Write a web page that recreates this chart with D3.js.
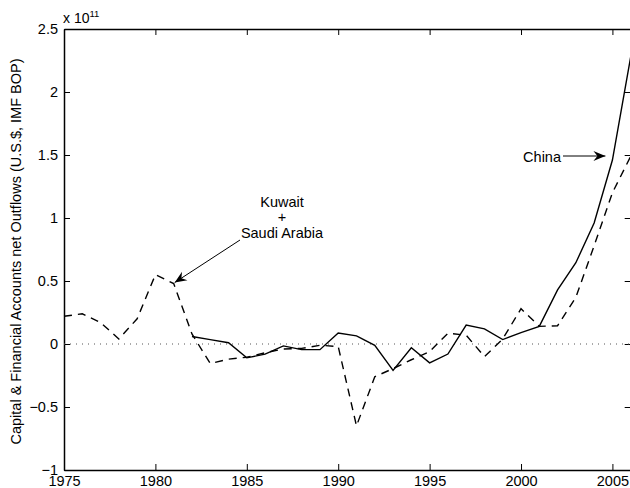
<!DOCTYPE html>
<html lang="en">
<head>
    <meta charset="UTF-8">
    <title>Capital outflows</title>
    <style>
        body { margin: 0; background: #fff; }
        text { font-family: "Liberation Sans", Arial, Helvetica, sans-serif; fill: #000; }
    </style>
</head>
<body>

<div id="content"></div>

<script src="https://d3js.org/d3.v7.min.js"></script>
<script>

    // data (units of 1e11 U.S.$)
    var years = d3.range(1975, 2007);

    var chinaValues = [null, null, null, null, null, null, null,
        0.06, 0.035, 0.01, -0.11, -0.08, -0.015, -0.045, -0.045, 0.087,
        0.065, -0.01, -0.21, -0.03, -0.15, -0.08, 0.15, 0.12, 0.035,
        0.09, 0.14, 0.43, 0.645, 0.96, 1.46, 2.28];

    var gulfValues = [0.22, 0.24, 0.17, 0.04, 0.2, 0.55, 0.48,
        0.08, -0.155, -0.12, -0.105, -0.07, -0.04, -0.035, -0.01, -0.02,
        -0.65, -0.26, -0.195, -0.125, -0.06, 0.085, 0.07, -0.1, 0.04,
        0.28, 0.14, 0.145, 0.37, 0.78, 1.2, 1.49];

    var xTicks = [1975, 1980, 1985, 1990, 1995, 2000, 2005];
    var yTicks = [-1, -0.5, 0, 0.5, 1, 1.5, 2, 2.5];

    var width = 630, height = 488;
    // plot box (note: "top" is reserved on window, so use plotX/plotY names)
    var plotLeft = 64, plotRight = 630.7, plotTop = 29, plotBottom = 470;

    var svg = d3.select("#content")
        .append("svg")
        .attr("width", width)
        .attr("height", height);

    var xScale = d3.scaleLinear().domain([1975, 2006]).range([plotLeft, plotRight]);
    var yScale = d3.scaleLinear().domain([-1, 2.5]).range([plotBottom, plotTop]);

    var fmt = function (d) {
        return String(d).replace("-", "\u2212");
    };

    // axes, MATLAB style: box with inward ticks on all sides
    var tickLen = 6;
    svg.append("g")
        .attr("transform", "translate(0," + plotBottom + ")")
        .call(d3.axisBottom(xScale).tickValues(xTicks).tickSizeInner(-tickLen).tickSizeOuter(0).tickPadding(6).tickFormat(d3.format("d")));
    svg.append("g")
        .attr("transform", "translate(0," + plotTop + ")")
        .call(d3.axisTop(xScale).tickValues(xTicks).tickSizeInner(-tickLen).tickSizeOuter(0).tickFormat(""));
    svg.append("g")
        .attr("transform", "translate(" + plotLeft + ",0)")
        .call(d3.axisLeft(yScale).tickValues(yTicks).tickSizeInner(-tickLen).tickSizeOuter(0).tickPadding(6).tickFormat(fmt));
    svg.append("g")
        .attr("transform", "translate(" + plotRight + ",0)")
        .call(d3.axisRight(yScale).tickValues(yTicks).tickSizeInner(-tickLen).tickSizeOuter(0).tickFormat(""));

    svg.selectAll(".domain").attr("stroke", "#000").attr("stroke-width", 1.5);
    svg.selectAll(".tick line").attr("stroke", "#000").attr("stroke-width", 1);
    svg.selectAll(".tick text").style("font-size", "14.5px").attr("fill", "#000");

    // zero line
    svg.append("line")
        .attr("x1", plotLeft).attr("x2", plotRight)
        .attr("y1", yScale(0)).attr("y2", yScale(0))
        .attr("stroke", "#555")
        .attr("stroke-width", 1)
        .attr("stroke-dasharray", "1,5");

    var line = d3.line()
        .defined(function (d) { return d.y !== null; })
        .x(function (d) { return xScale(d.x); })
        .y(function (d) { return yScale(d.y); });

    var pairs = function (vals) {
        return years.map(function (yr, i) { return {x: yr, y: vals[i]}; });
    };

    svg.append("path")
        .datum(pairs(gulfValues))
        .attr("d", line)
        .attr("fill", "none")
        .attr("stroke", "#000")
        .attr("stroke-width", 1.4)
        .attr("stroke-dasharray", "8,6");

    svg.append("path")
        .datum(pairs(chinaValues))
        .attr("d", line)
        .attr("fill", "none")
        .attr("stroke", "#000")
        .attr("stroke-width", 1.4);

    // exponent label
    var expo = svg.append("text")
        .attr("x", 63)
        .attr("y", 23)
        .style("font-size", "14px");
    expo.append("tspan").text("x 10");
    expo.append("tspan").attr("dy", -6).style("font-size", "9.5px").text("11");

    // y label
    svg.append("text")
        .attr("transform", "translate(21," + ((plotTop + plotBottom) / 2 + 2) + ") rotate(-90)")
        .attr("text-anchor", "middle")
        .style("font-size", "14.5px")
        .text("Capital & Financial Accounts net Outflows (U.S.$, IMF BOP)");

    // annotations
    var defs = svg.append("defs");
    defs.append("marker")
        .attr("id", "head")
        .attr("viewBox", "-12 -6 14 12")
        .attr("markerWidth", 14)
        .attr("markerHeight", 12)
        .attr("markerUnits", "userSpaceOnUse")
        .attr("orient", "auto")
        .append("path")
        .attr("d", "M0,0 L-12,-5 L-8,0 L-12,5 Z")
        .attr("fill", "#000");

    var gulfLabel = svg.append("text")
        .attr("text-anchor", "middle")
        .style("font-size", "14.5px");
    gulfLabel.append("tspan").attr("x", 282).attr("y", 207).text("Kuwait");
    gulfLabel.append("tspan").attr("x", 282).attr("y", 222).text("+");
    gulfLabel.append("tspan").attr("x", 282).attr("y", 238).text("Saudi Arabia");

    svg.append("line")
        .attr("x1", 240).attr("y1", 240)
        .attr("x2", xScale(1981) + 1).attr("y2", yScale(0.48) - 1)
        .attr("stroke", "#000")
        .attr("stroke-width", 1)
        .attr("marker-end", "url(#head)");

    svg.append("text")
        .attr("x", 561)
        .attr("y", 162)
        .attr("text-anchor", "end")
        .style("font-size", "14.5px")
        .text("China");

    svg.append("line")
        .attr("x1", 563).attr("y1", 156)
        .attr("x2", xScale(2005) - 7).attr("y2", 156)
        .attr("stroke", "#000")
        .attr("stroke-width", 1)
        .attr("marker-end", "url(#head)");

</script>

</body>
</html>
